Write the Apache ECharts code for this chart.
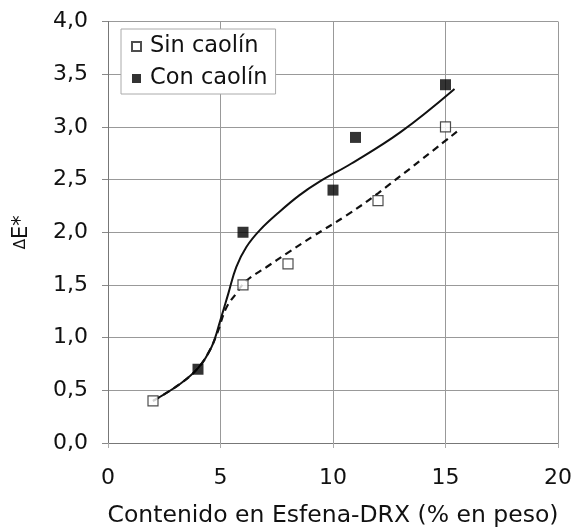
<!DOCTYPE html>
<html>
<head>
<meta charset="utf-8">
<script src="https://cdn.jsdelivr.net/npm/echarts@6/dist/echarts.min.js"></script>
<style>
  html, body { margin: 0; padding: 0; background: #fff; }
  #chart { width: 573px; height: 528px; }
</style>
</head>
<body>
<div id="chart"></div>
<script>
// puntos medidos
var sinX = [2, 6, 8, 12, 15];
var sinY = [0.4, 1.5, 1.7, 2.3, 3.0];
var conX = [4, 6, 10, 11, 15];
var conY = [0.7, 2.0, 2.4, 2.9, 3.4];

// curvas de tendencia
var conCurveX = [2, 3.2, 4, 4.6, 5, 5.35, 5.7, 6.15, 6.75, 7.6, 8.5, 9.4, 10.8, 13, 15.4];
var conCurveY = [0.4, 0.56, 0.71, 0.91, 1.17, 1.42, 1.67, 1.86, 2.02, 2.19, 2.35, 2.48, 2.65, 2.95, 3.36];
var sinCurveX = [2, 3.2, 4, 4.5, 4.85, 5.25, 5.7, 6.15, 7.05, 7.95, 9.1, 10.6, 12, 15.6];
var sinCurveY = [0.4, 0.56, 0.71, 0.87, 1.04, 1.28, 1.42, 1.54, 1.67, 1.8, 1.96, 2.16, 2.37, 2.97];

var xTicks = [0, 5, 10, 15, 20];
var yTicks = [0, 0.5, 1, 1.5, 2, 2.5, 3, 3.5, 4];

function pairs(xs, ys) {
    var out = [];
    for (var i = 0; i < xs.length; i++) out.push([xs[i], ys[i]]);
    return out;
}

var font = 'DejaVu Sans';
var chart = echarts.init(document.getElementById('chart'));

var option = {
    animation: false,
    backgroundColor: '#fff',
    grid: { left: 108, right: 15, top: 21.5, bottom: 85, outerBoundsMode: 'none', containLabel: false },
    legend: {
        orient: 'vertical',
        left: 121,
        top: 29,
        data: ['Sin caolín', 'Con caolín'],
        backgroundColor: '#fff',
        borderColor: '#aaa',
        borderWidth: 1,
        borderRadius: 0,
        padding: [6, 8, 4, 10],
        itemGap: 9,
        itemWidth: 9,
        itemHeight: 9,
        textStyle: { fontFamily: font, fontSize: 22.5, lineHeight: 23, color: '#111', padding: [0, 0, 0, 4] }
    },
    xAxis: {
        type: 'value',
        min: xTicks[0],
        max: xTicks[xTicks.length - 1],
        interval: 5,
        name: 'Contenido en Esfena-DRX (% en peso)',
        nameLocation: 'middle',
        nameGap: 61,
        nameTextStyle: { fontFamily: font, fontSize: 23.5, color: '#111' },
        axisLine: { lineStyle: { color: '#777', width: 1 } },
        axisTick: { show: true, length: 5, lineStyle: { color: '#aaa' } },
        axisLabel: { fontFamily: font, fontSize: 22, color: '#111', margin: 24 },
        splitLine: { show: true, lineStyle: { color: '#999', width: 1 } }
    },
    yAxis: {
        type: 'value',
        min: yTicks[0],
        max: yTicks[yTicks.length - 1],
        interval: 0.5,
        name: '{d|Δ}{e|E*}',
        nameLocation: 'middle',
        nameGap: 76,
        nameRotate: 90,
        nameTextStyle: {
            rich: {
                d: { fontFamily: font, fontSize: 15, color: '#111' },
                e: { fontFamily: font, fontSize: 21, color: '#111' }
            }
        },
        axisLine: { show: true, lineStyle: { color: '#777', width: 1 } },
        axisTick: { show: true, length: 6, lineStyle: { color: '#888' } },
        axisLabel: {
            fontFamily: font, fontSize: 22, color: '#111', margin: 20,
            formatter: function (v) { return v.toFixed(1).replace('.', ','); }
        },
        splitLine: { show: true, lineStyle: { color: '#999', width: 1 } }
    },
    series: [{
        name: 'curva sin',
        type: 'line',
        data: pairs(sinCurveX, sinCurveY),
        smooth: 0.4,
        showSymbol: false,
        silent: true,
        lineStyle: { color: '#111', width: 2.2, type: [7, 5] },
        z: 2
    }, {
        name: 'curva con',
        type: 'line',
        data: pairs(conCurveX, conCurveY),
        smooth: 0.4,
        showSymbol: false,
        silent: true,
        lineStyle: { color: '#111', width: 2, type: 'solid' },
        z: 2
    }, {
        name: 'Sin caolín',
        type: 'scatter',
        data: pairs(sinX, sinY),
        symbol: 'rect',
        symbolSize: 10,
        itemStyle: { color: '#fff', borderColor: '#222', borderWidth: 1.2 },
        z: 3
    }, {
        name: 'Con caolín',
        type: 'scatter',
        data: pairs(conX, conY),
        symbol: 'rect',
        symbolSize: 11,
        itemStyle: { color: '#000' },
        z: 4
    }]
};

option && chart.setOption(option);
</script>
</body>
</html>
